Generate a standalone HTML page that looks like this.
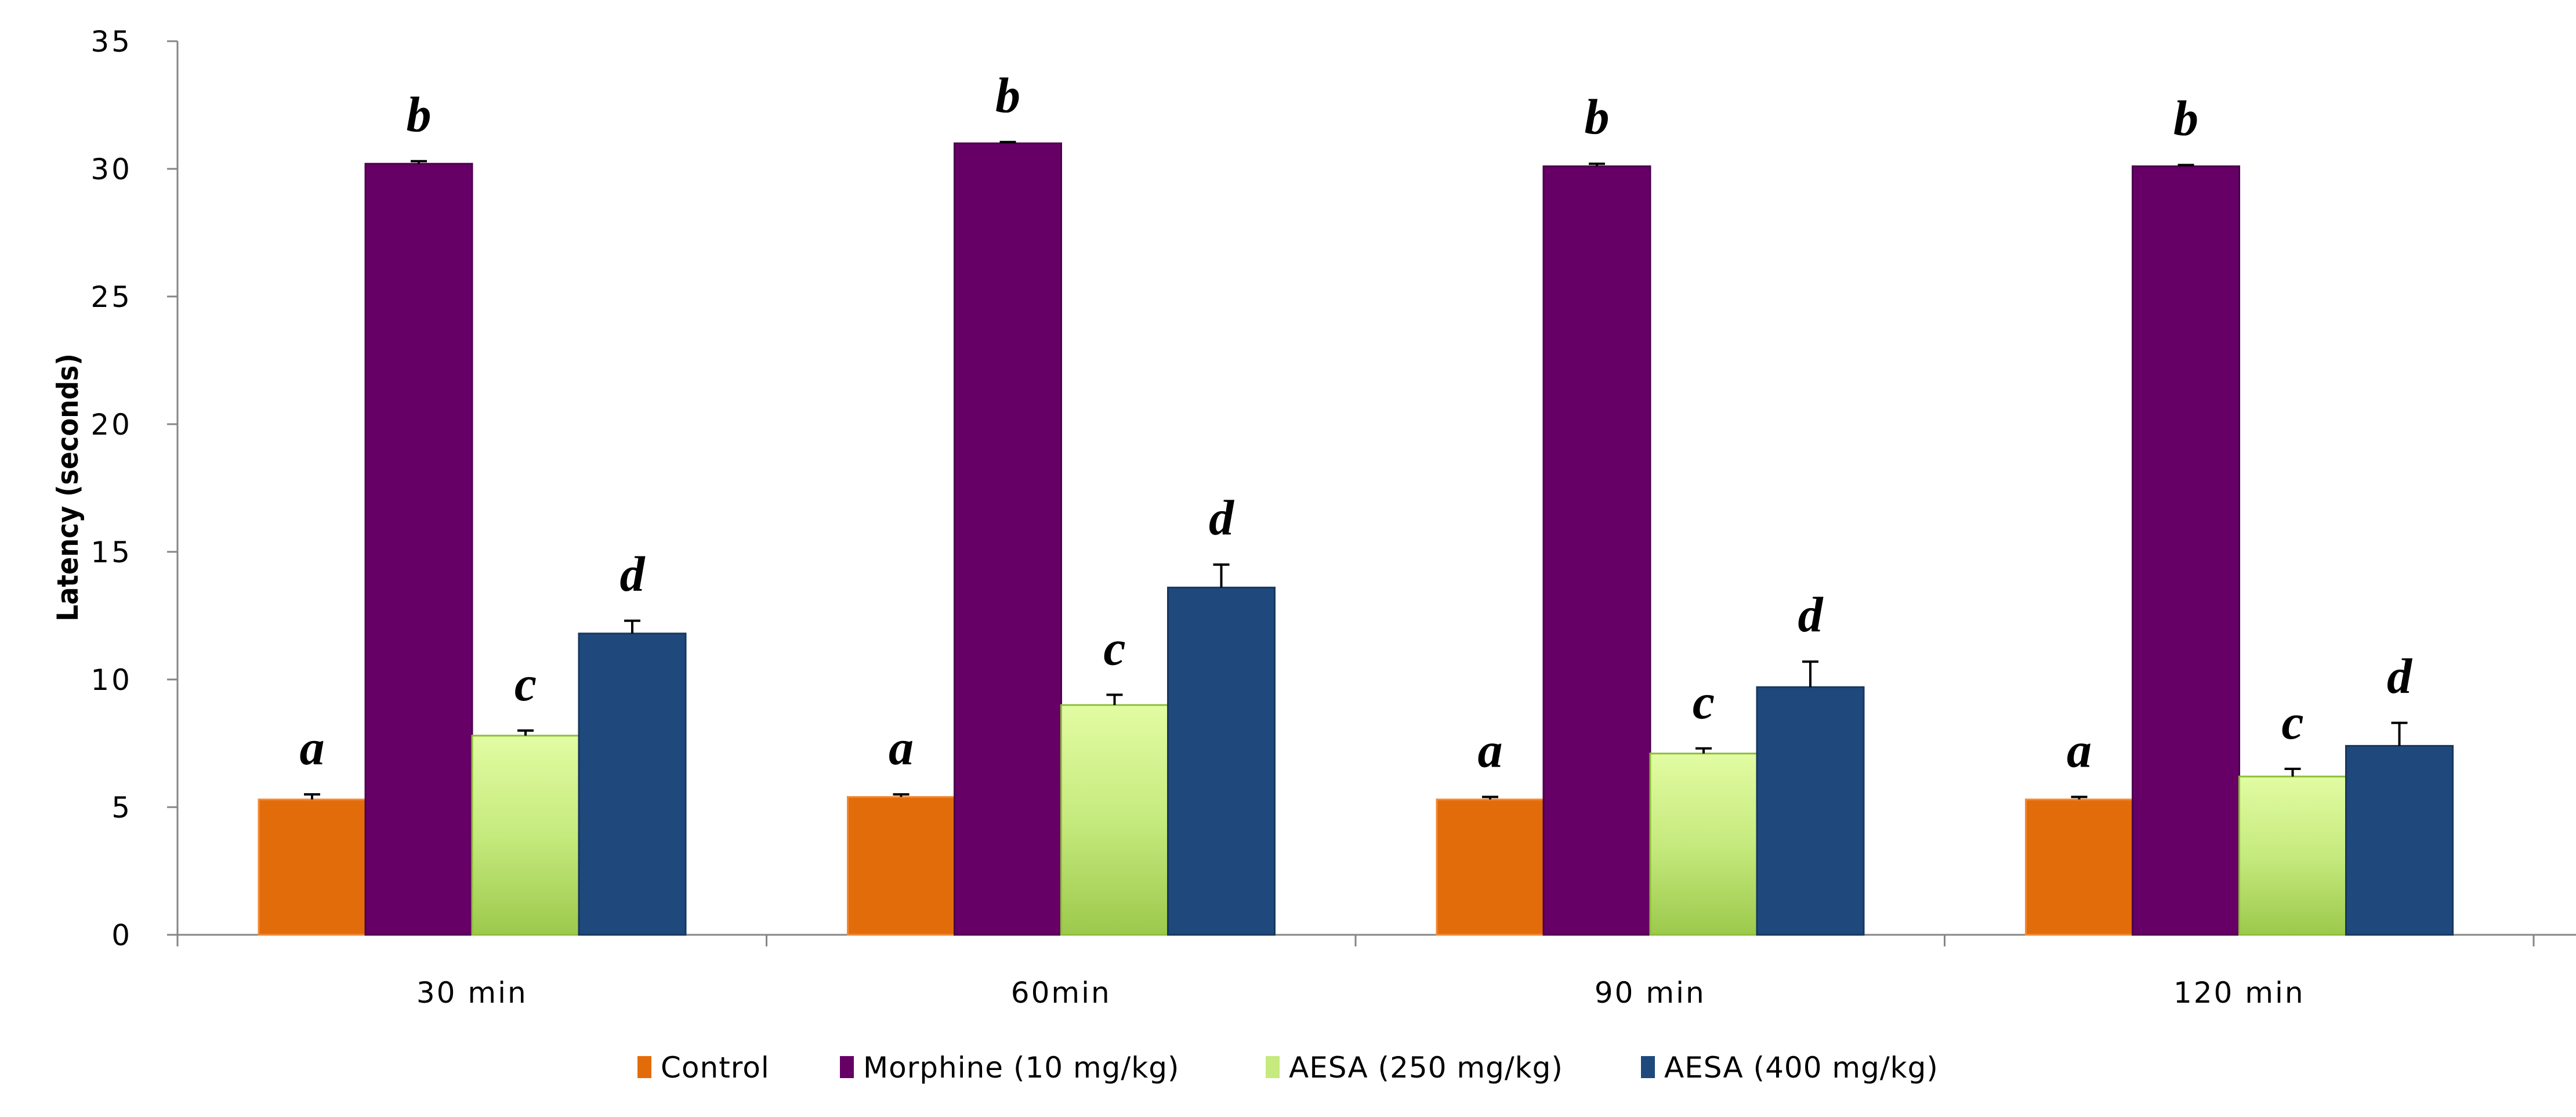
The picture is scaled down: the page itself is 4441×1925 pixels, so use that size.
<!DOCTYPE html>
<html><head><meta charset="utf-8"><style>
html,body{margin:0;padding:0;background:#fff;}
svg{display:block;}
</style></head><body>
<svg id="chart" width="4441" height="1925" viewBox="0 0 4441 1925" xmlns="http://www.w3.org/2000/svg">
<defs>
<linearGradient id="gGreen" x1="0" y1="0" x2="0" y2="1">
<stop offset="0" stop-color="#e2fca2"/><stop offset="0.5" stop-color="#c6ea7e"/><stop offset="1" stop-color="#9cc94c"/>
</linearGradient>
</defs>
<g id="plot"></g>
</svg>
<script>
const categories = ["30 min","60min","90 min","120 min"];
const seriesNames = ["Control","Morphine (10 mg/kg)","AESA (250 mg/kg)","AESA (400 mg/kg)"];
const control = [5.3, 5.4, 5.3, 5.3];
const morphine = [30.2, 31.0, 30.1, 30.1];
const aesa250 = [7.8, 9.0, 7.1, 6.2];
const aesa400 = [11.8, 13.6, 9.7, 7.4];
const errControl = [0.2, 0.1, 0.1, 0.1];
const errMorphine = [0.1, 0.05, 0.1, 0.05];
const errAesa250 = [0.2, 0.4, 0.2, 0.3];
const errAesa400 = [0.5, 0.9, 1.0, 0.9];
const letters = ["a","b","c","d"];
const yTicks = [0,5,10,15,20,25,30,35];

const NS = "http://www.w3.org/2000/svg";
const g = document.getElementById("plot");
const X0 = 306, GW = 1015.5, Y0 = 1611, YTOP = 71, YMAX = 35;
const BW = 184, PAD = 140;
const FONT = "DejaVu Sans, Liberation Sans, sans-serif";
function y(v){ return Y0 - (v / YMAX) * (Y0 - YTOP); }
function groupX(i){ return X0 + i * GW; }
function mk(tag, attrs, parent){
  const e = document.createElementNS(NS, tag);
  for (const k in attrs) e.setAttribute(k, attrs[k]);
  (parent || g).appendChild(e);
  return e;
}
const series = [control, morphine, aesa250, aesa400];
const errs = [errControl, errMorphine, errAesa250, errAesa400];
const fills = ["#e36c0a", "#660066", "url(#gGreen)", "#1f497d"];
const strokes = ["#f08a3a", "#4d004d", "#8cbf3a", "#17375e"];

let ax = mk("line", {x1:X0, y1:YTOP, x2:X0, y2:Y0, stroke:"#868686", "stroke-width":3});


yTicks.forEach(t => {
  const tk = mk("line", {x1:X0-18, y1:y(t), x2:X0, y2:y(t), stroke:"#868686", "stroke-width":3});
  
  
  const tl = mk("text", {x:228, y:y(t)+18, "text-anchor":"end", "font-family":FONT, "font-size":50, "letter-spacing":4, fill:"#000"});
  tl.textContent = t;
  
  
});
let xa = mk("line", {x1:X0, y1:Y0, x2:4441, y2:Y0, stroke:"#868686", "stroke-width":3});


for (let i = 0; i <= categories.length; i++) {
  const tk = mk("line", {x1:groupX(i), y1:Y0, x2:groupX(i), y2:Y0+20, stroke:"#868686", "stroke-width":3});
  
  
}
categories.forEach((c, i) => {
  const gx = groupX(i);
  series.forEach((s, j) => {
    const bx = gx + PAD + j * BW;
    const v = s[i];
    const r = mk("rect", {x:bx, y:y(v), width:BW, height:Y0 - y(v), fill:fills[j], stroke:strokes[j], "stroke-width":3});
    
    
    const e = errs[j][i];
    const cx = bx + BW/2;
    const el = mk("path", {d:`M${cx},${y(v)} V${y(v+e)} M${cx-14},${y(v+e)} H${cx+14}`, stroke:"#000", "stroke-width":4, fill:"none"});
    
    
    const lt = mk("text", {x:cx, y:y(v+e)-52, "text-anchor":"middle", "font-family":"Liberation Serif, serif", "font-size":86, "font-style":"italic", "font-weight":"bold", fill:"#000"});
    lt.textContent = letters[j];
    
    
  });
  const xl = mk("text", {x:gx + GW/2, y:1728, "text-anchor":"middle", "font-family":FONT, "font-size":50, "letter-spacing":3, fill:"#000"});
  xl.textContent = c;
  
  
});
const yt = mk("text", {x:0, y:0, transform:"translate(134,840) rotate(-90)", "text-anchor":"middle", "font-family":"DejaVu Sans Condensed, DejaVu Sans, sans-serif", "font-stretch":"condensed", "font-size":50, "font-weight":"bold", fill:"#000"});
yt.textContent = "Latency (seconds)";


const legX = [1099, 1448, 2182, 2829];
const legFill = ["#e36c0a", "#660066", "#c6ea7e", "#1f497d"];
seriesNames.forEach((n, j) => {
  const sq = mk("rect", {x:legX[j], y:1820, width:24, height:38, fill:legFill[j]});
  
  
  const t = mk("text", {x:legX[j]+40, y:1857, "font-family":FONT, "font-size":50, "letter-spacing":1, fill:"#000"});
  t.textContent = n;
  
  
});
</script>
</body></html>
